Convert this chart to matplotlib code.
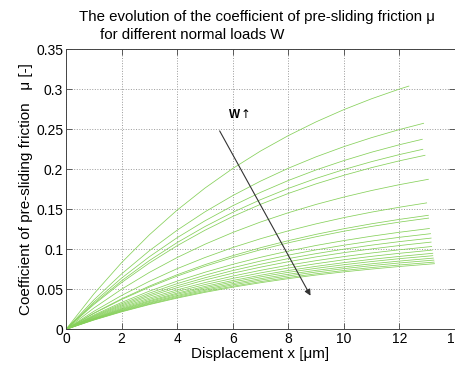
import matplotlib.pyplot as plt

plt.rcParams["font.family"] = ["Liberation Sans", "DejaVu Sans"]

# displacement grid [um] shared by all curves, each curve has its own end point
x_grid = [0, 1, 2, 3, 4, 5, 6, 7, 8, 9, 10, 11, 12]
x_end = [12.34, 12.87, 12.82, 12.84, 12.92, 13.04, 12.98, 13.04, 13.05, 13.08, 13.12,
         13.14, 13.14, 13.16, 13.18, 13.2, 13.2, 13.22, 13.24, 13.25, 13.26]

# coefficient of pre-sliding friction, one row per normal load (small load first)
mu_1 = [0, 0.0441, 0.0833, 0.1181, 0.1490, 0.1765, 0.2010, 0.2228, 0.2421, 0.2593, 0.2746, 0.2882, 0.3003, 0.304]
mu_2 = [0, 0.0366, 0.0692, 0.0982, 0.1239, 0.1468, 0.1671, 0.1852, 0.2013, 0.2156, 0.2283, 0.2396, 0.2497, 0.2575]
mu_3 = [0, 0.0339, 0.0640, 0.0907, 0.1145, 0.1356, 0.1544, 0.1711, 0.1860, 0.1992, 0.2109, 0.2214, 0.2307, 0.2375]
mu_4 = [0, 0.0321, 0.0606, 0.0859, 0.1084, 0.1284, 0.1462, 0.1620, 0.1761, 0.1886, 0.1997, 0.2096, 0.2184, 0.225]
mu_5 = [0, 0.0309, 0.0584, 0.0828, 0.1045, 0.1238, 0.1410, 0.1562, 0.1698, 0.1818, 0.1925, 0.2021, 0.2106, 0.2175]
mu_6 = [0, 0.0265, 0.0501, 0.0711, 0.0897, 0.1063, 0.1210, 0.1341, 0.1457, 0.1561, 0.1653, 0.1735, 0.1808, 0.1875]
mu_7 = [0, 0.0224, 0.0423, 0.0600, 0.0758, 0.0897, 0.1022, 0.1132, 0.1231, 0.1318, 0.1396, 0.1465, 0.1526, 0.158]
mu_8 = [0, 0.0202, 0.0381, 0.0540, 0.0682, 0.0808, 0.0920, 0.1020, 0.1108, 0.1187, 0.1257, 0.1319, 0.1374, 0.1425]
mu_9 = [0, 0.0197, 0.0372, 0.0527, 0.0665, 0.0788, 0.0897, 0.0994, 0.1081, 0.1157, 0.1226, 0.1286, 0.1340, 0.139]
mu_10 = [0, 0.0178, 0.0336, 0.0477, 0.0602, 0.0713, 0.0812, 0.0900, 0.0978, 0.1048, 0.1109, 0.1164, 0.1213, 0.126]
mu_11 = [0, 0.0169, 0.0319, 0.0452, 0.0571, 0.0676, 0.0770, 0.0853, 0.0927, 0.0993, 0.1051, 0.1103, 0.1150, 0.1195]
mu_12 = [0, 0.0161, 0.0304, 0.0431, 0.0544, 0.0644, 0.0734, 0.0813, 0.0884, 0.0946, 0.1002, 0.1052, 0.1096, 0.114]
mu_13 = [0, 0.0154, 0.0290, 0.0412, 0.0520, 0.0616, 0.0701, 0.0777, 0.0845, 0.0905, 0.0958, 0.1005, 0.1047, 0.109]
mu_14 = [0, 0.0146, 0.0276, 0.0391, 0.0493, 0.0584, 0.0665, 0.0737, 0.0801, 0.0858, 0.0909, 0.0954, 0.0994, 0.1035]
mu_15 = [0, 0.0139, 0.0263, 0.0374, 0.0472, 0.0559, 0.0636, 0.0705, 0.0766, 0.0820, 0.0869, 0.0912, 0.0950, 0.099]
mu_16 = [0, 0.0134, 0.0253, 0.0358, 0.0452, 0.0536, 0.0610, 0.0676, 0.0735, 0.0787, 0.0833, 0.0875, 0.0911, 0.095]
mu_17 = [0, 0.0130, 0.0245, 0.0347, 0.0438, 0.0519, 0.0591, 0.0655, 0.0712, 0.0762, 0.0807, 0.0847, 0.0883, 0.092]
mu_18 = [0, 0.0125, 0.0237, 0.0335, 0.0423, 0.0502, 0.0571, 0.0633, 0.0688, 0.0737, 0.0780, 0.0819, 0.0853, 0.089]
mu_19 = [0, 0.0122, 0.0230, 0.0326, 0.0411, 0.0487, 0.0555, 0.0615, 0.0668, 0.0716, 0.0758, 0.0796, 0.0829, 0.0865]
mu_20 = [0, 0.0118, 0.0223, 0.0316, 0.0399, 0.0473, 0.0538, 0.0596, 0.0648, 0.0694, 0.0735, 0.0772, 0.0804, 0.084]
mu_21 = [0, 0.0115, 0.0218, 0.0309, 0.0390, 0.0462, 0.0526, 0.0582, 0.0633, 0.0678, 0.0718, 0.0753, 0.0785, 0.082]

curves = [mu_1, mu_2, mu_3, mu_4, mu_5, mu_6, mu_7, mu_8, mu_9, mu_10, mu_11,
          mu_12, mu_13, mu_14, mu_15, mu_16, mu_17, mu_18, mu_19, mu_20, mu_21]

x_ticks = [0, 2, 4, 6, 8, 10, 12, 14]
y_ticks = [0, 0.05, 0.1, 0.15, 0.2, 0.25, 0.3, 0.35]
y_tick_labels = ["0", "0.05", "0.1", "0.15", "0.2", "0.25", "0.3", "0.35"]

fig = plt.figure(figsize=(4.56, 3.67), dpi=100)
ax = fig.add_axes([66 / 456, 37.7 / 367, 389 / 456, 280 / 367])

for xe, mu in zip(x_end, curves):
    ax.plot(x_grid + [xe], mu, color="#86d05a", lw=0.55)

ax.annotate("", xy=(8.8, 0.042), xytext=(5.53, 0.248),
            arrowprops=dict(arrowstyle="-|>", color="#333333", lw=0.8,
                            mutation_scale=9, shrinkA=0, shrinkB=0))
ax.text(6.05, 0.268, "W", fontsize=8.5, fontweight="bold", ha="center", va="center")
ax.text(6.47, 0.269, "\u2191", fontsize=8.5, family="DejaVu Sans", ha="center", va="center")

ax.set_xlim(0, 14)
ax.set_ylim(0, 0.35)
ax.set_xticks(x_ticks)
ax.set_xticklabels([str(t) for t in x_ticks])
ax.set_yticks(y_ticks)
ax.set_yticklabels(y_tick_labels)
ax.tick_params(direction="in", length=4, width=0.6, labelsize=10, pad=2,
               top=True, right=True, colors="#444444", labelcolor="black")
ax.grid(True, linestyle=":", color="#999999", lw=0.7)
for s in ax.spines.values():
    s.set_color("#444444")
    s.set_linewidth(0.7)

ax.set_xlabel("Displacement x [\u03bcm]", fontsize=11, labelpad=1)
ax.set_ylabel("Coefficient of pre-sliding friction   \u03bc [-]", fontsize=11, labelpad=2)

fig.text(79 / 456, 1 - 17 / 367, "The evolution of the coefficient of pre-sliding friction \u03bc",
         fontsize=10.8, ha="left", va="center")
fig.text(100 / 456, 1 - 35 / 367, "for different normal loads W",
         fontsize=10.8, ha="left", va="center")

fig.savefig("out.png", dpi=100)
